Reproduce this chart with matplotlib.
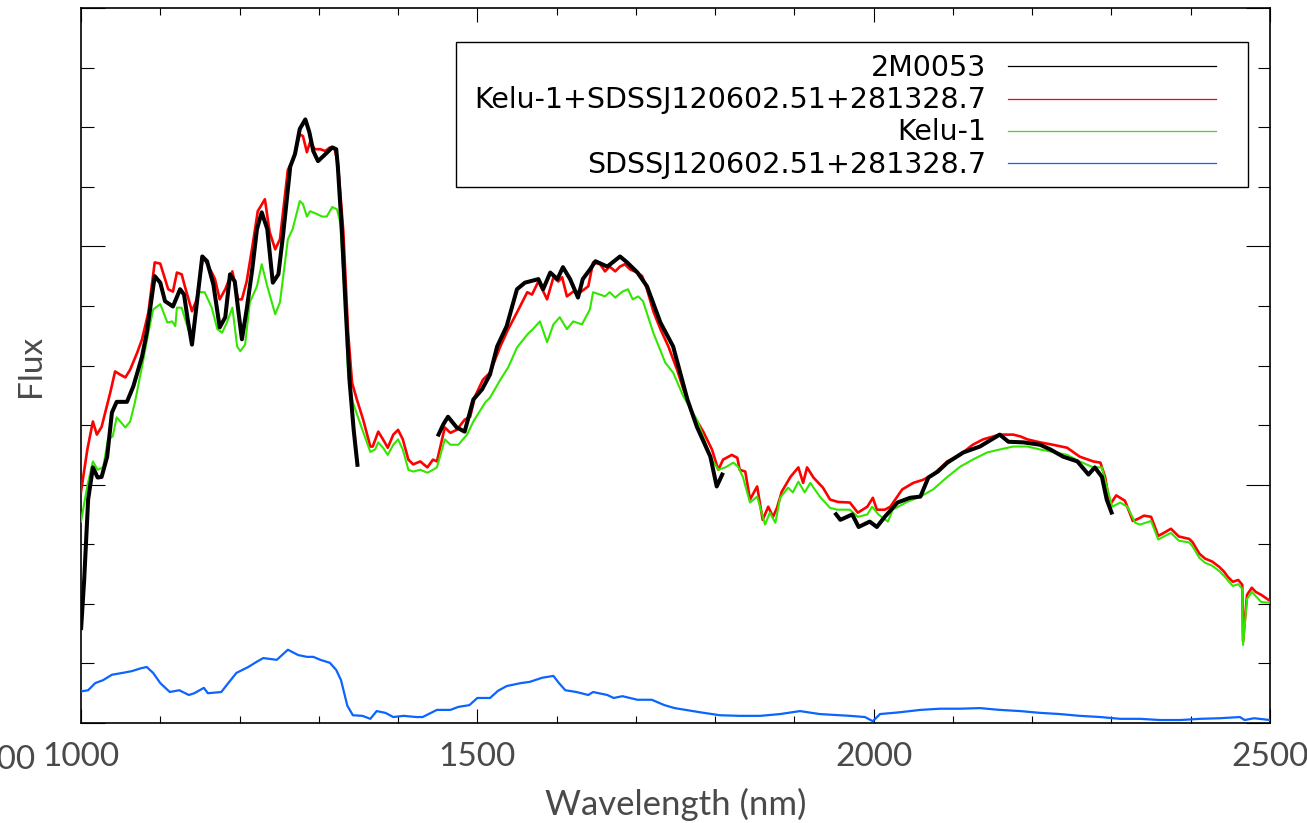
import numpy as np
import matplotlib
matplotlib.use("Agg")
import matplotlib.pyplot as plt
from matplotlib.patches import Rectangle
from matplotlib.lines import Line2D
from matplotlib.ticker import MultipleLocator

# ---- 2M0053 (observed, with gaps between bands) ----
obs_wave_j = [1000, 1004, 1009, 1015, 1021, 1026, 1033, 1039, 1045, 1058, 1066, 1077, 1083, 1093, 1100,
              1106, 1116, 1125, 1130, 1135, 1140, 1146, 1153, 1159, 1167, 1175, 1182, 1188, 1194, 1199,
              1203, 1209, 1216, 1222, 1228, 1235, 1242, 1249, 1255, 1264, 1270, 1276, 1283, 1288, 1293,
              1299, 1307, 1317, 1322, 1324, 1329, 1334, 1339, 1344, 1349]
obs_flux_j = [1.56, 2.40, 3.75, 4.29, 4.12, 4.13, 4.47, 5.21, 5.39, 5.39, 5.65, 6.15, 6.55, 7.50, 7.39,
              7.08, 6.99, 7.28, 7.19, 6.74, 6.35, 7.03, 7.83, 7.75, 7.36, 6.64, 6.81, 7.53, 7.41, 6.86,
              6.44, 6.94, 7.61, 8.29, 8.57, 8.29, 7.39, 7.53, 8.20, 9.34, 9.55, 9.97, 10.13, 9.92, 9.60,
              9.43, 9.53, 9.66, 9.63, 9.34, 8.29, 6.94, 5.71, 4.92, 4.30]
obs_wave_h = [1450, 1457, 1463, 1474, 1484, 1495, 1506, 1516, 1525, 1537, 1550, 1560, 1577, 1583, 1592,
              1601, 1608, 1617, 1627, 1633, 1642, 1649, 1664, 1680, 1689, 1702, 1714, 1731, 1747, 1765,
              1777, 1794, 1802, 1810]
obs_flux_h = [4.81, 5.01, 5.14, 4.96, 4.89, 5.43, 5.60, 5.85, 6.32, 6.66, 7.28, 7.39, 7.45, 7.28, 7.56,
              7.45, 7.65, 7.45, 7.14, 7.45, 7.61, 7.75, 7.66, 7.83, 7.73, 7.56, 7.33, 6.72, 6.32, 5.43,
              4.97, 4.47, 3.97, 4.20]
obs_wave_k = [1951, 1958, 1973, 1981, 1995, 2004, 2014, 2030, 2046, 2059, 2069, 2081, 2093, 2113, 2134,
              2149, 2159, 2170, 2189, 2210, 2223, 2239, 2257, 2271, 2279, 2288, 2294, 2301]
obs_flux_k = [3.53, 3.41, 3.50, 3.29, 3.38, 3.29, 3.46, 3.70, 3.78, 3.80, 4.12, 4.22, 4.37, 4.54, 4.64,
              4.76, 4.84, 4.72, 4.71, 4.67, 4.59, 4.47, 4.39, 4.17, 4.29, 4.13, 3.75, 3.50]

# ---- Kelu-1 + SDSSJ120602.51+281328.7 composite ----
comp_wave = [1000, 1008, 1015, 1020, 1026, 1037, 1043, 1049, 1056, 1062, 1071, 1077, 1085, 1093, 1100,
             1110, 1116, 1121, 1127, 1131, 1140, 1146, 1154, 1165, 1169, 1175, 1182, 1191, 1198, 1203,
             1209, 1216, 1223, 1232, 1238, 1245, 1251, 1261, 1267, 1276, 1280, 1285, 1289, 1295, 1302,
             1308, 1314, 1320, 1324, 1331, 1337, 1342, 1348, 1356, 1365, 1368, 1375, 1381, 1387, 1394,
             1400, 1406, 1413, 1419, 1428, 1437, 1444, 1449, 1459, 1466, 1474, 1484, 1491, 1497, 1507,
             1516, 1529, 1539, 1550, 1563, 1569, 1577, 1588, 1596, 1602, 1607, 1613, 1621, 1630, 1640,
             1646, 1655, 1661, 1667, 1674, 1680, 1686, 1693, 1702, 1708, 1714, 1722, 1731, 1741, 1752,
             1760, 1772, 1785, 1796, 1804, 1810, 1821, 1828, 1831, 1838, 1844, 1853, 1860, 1867, 1873,
             1878, 1884, 1895, 1905, 1911, 1916, 1924, 1936, 1945, 1955, 1970, 1980, 1992, 1999, 2004,
             2014, 2021, 2036, 2050, 2062, 2075, 2093, 2109, 2125, 2138, 2159, 2176, 2185, 2194, 2210,
             2226, 2244, 2260, 2277, 2286, 2292, 2298, 2306, 2317, 2327, 2334, 2341, 2350, 2359, 2366,
             2375, 2385, 2398, 2402, 2411, 2418, 2427, 2436, 2442, 2447, 2453, 2460, 2465, 2466, 2471,
             2477, 2482, 2489, 2498, 2500]
comp_flux = [3.88, 4.59, 5.06, 4.84, 4.97, 5.55, 5.90, 5.85, 5.80, 5.93, 6.22, 6.44, 6.89, 7.73, 7.71,
             7.28, 7.24, 7.56, 7.53, 7.33, 6.91, 7.11, 7.83, 7.56, 7.45, 7.11, 7.28, 7.58, 7.11, 7.11,
             7.41, 7.98, 8.59, 8.79, 8.24, 7.95, 8.12, 9.29, 9.43, 9.88, 9.85, 9.58, 9.75, 9.63, 9.63,
             9.60, 9.66, 9.63, 9.41, 8.24, 6.55, 5.71, 5.43, 5.09, 4.64, 4.64, 4.89, 4.76, 4.62, 4.84,
             4.92, 4.76, 4.42, 4.34, 4.39, 4.29, 4.42, 4.39, 4.96, 4.87, 4.92, 5.09, 5.14, 5.48, 5.76,
             5.88, 6.32, 6.61, 6.89, 7.23, 7.19, 7.41, 7.11, 7.48, 7.41, 7.48, 7.16, 7.24, 7.23, 7.33,
             7.73, 7.70, 7.58, 7.66, 7.58, 7.66, 7.70, 7.61, 7.56, 7.50, 7.28, 6.91, 6.61, 6.32, 5.93,
             5.60, 5.18, 4.89, 4.59, 4.25, 4.42, 4.50, 4.45, 4.25, 4.22, 3.75, 3.97, 3.41, 3.63, 3.46,
             3.61, 3.88, 4.13, 4.29, 4.03, 4.29, 4.12, 3.95, 3.75, 3.71, 3.70, 3.53, 3.63, 3.78, 3.58,
             3.58, 3.63, 3.92, 4.03, 4.08, 4.17, 4.39, 4.50, 4.67, 4.76, 4.84, 4.84, 4.81, 4.76, 4.71,
             4.67, 4.62, 4.47, 4.39, 4.37, 4.13, 3.66, 3.82, 3.73, 3.39, 3.43, 3.48, 3.46, 3.14, 3.19,
             3.26, 3.13, 3.09, 3.04, 2.84, 2.76, 2.71, 2.62, 2.54, 2.45, 2.37, 2.40, 2.32, 1.37, 2.15,
             2.27, 2.20, 2.15, 2.07, 2.05]

# ---- Kelu-1 ----
kelu_wave = [1000, 1008, 1015, 1021, 1028, 1034, 1040, 1045, 1056, 1062, 1068, 1078, 1085, 1091, 1100,
             1109, 1115, 1119, 1121, 1127, 1134, 1140, 1148, 1156, 1165, 1172, 1178, 1184, 1191, 1197,
             1201, 1207, 1213, 1222, 1228, 1235, 1245, 1251, 1261, 1267, 1276, 1280, 1285, 1289, 1298,
             1304, 1310, 1317, 1323, 1327, 1333, 1337, 1343, 1355, 1365, 1371, 1375, 1381, 1387, 1394,
             1400, 1406, 1413, 1419, 1428, 1437, 1444, 1449, 1459, 1466, 1476, 1487, 1495, 1510, 1516,
             1529, 1539, 1550, 1563, 1570, 1579, 1588, 1596, 1604, 1613, 1621, 1632, 1642, 1646, 1655,
             1661, 1667, 1674, 1683, 1690, 1696, 1703, 1709, 1722, 1737, 1747, 1760, 1777, 1794, 1804,
             1813, 1823, 1829, 1835, 1844, 1853, 1863, 1869, 1876, 1882, 1892, 1898, 1905, 1913, 1920,
             1932, 1945, 1954, 1970, 1980, 1992, 1998, 2006, 2018, 2024, 2042, 2059, 2075, 2093, 2109,
             2125, 2143, 2159, 2176, 2194, 2210, 2226, 2244, 2260, 2277, 2288, 2294, 2301, 2311, 2320,
             2330, 2336, 2350, 2359, 2366, 2375, 2385, 2398, 2402, 2411, 2418, 2427, 2436, 2442, 2447,
             2453, 2460, 2465, 2466, 2471, 2477, 2482, 2489, 2498, 2500]
kelu_flux = [3.38, 3.98, 4.39, 4.25, 4.29, 4.76, 4.81, 5.13, 4.96, 5.06, 5.38, 6.05, 6.55, 6.94, 7.03,
             6.72, 6.74, 6.66, 6.97, 6.97, 6.66, 6.44, 7.23, 7.23, 6.97, 6.61, 6.55, 6.72, 6.97, 6.32,
             6.24, 6.35, 7.06, 7.33, 7.70, 7.33, 6.86, 7.06, 8.12, 8.29, 8.76, 8.71, 8.50, 8.59, 8.54,
             8.50, 8.50, 8.66, 8.62, 8.40, 7.11, 5.82, 5.38, 4.92, 4.55, 4.59, 4.71, 4.62, 4.50, 4.67,
             4.76, 4.59, 4.25, 4.22, 4.25, 4.20, 4.25, 4.29, 4.76, 4.67, 4.67, 4.84, 5.06, 5.38, 5.46,
             5.76, 5.97, 6.30, 6.52, 6.61, 6.74, 6.39, 6.69, 6.81, 6.61, 6.74, 6.69, 6.94, 7.23, 7.19,
             7.16, 7.23, 7.14, 7.24, 7.28, 7.11, 7.16, 7.08, 6.55, 6.05, 5.88, 5.48, 5.09, 4.47, 4.25,
             4.29, 4.37, 4.30, 4.13, 3.70, 3.80, 3.33, 3.53, 3.36, 3.78, 3.95, 3.87, 4.05, 3.87, 4.03,
             3.80, 3.61, 3.58, 3.58, 3.46, 3.50, 3.63, 3.50, 3.38, 3.58, 3.71, 3.80, 3.92, 4.13, 4.30,
             4.42, 4.54, 4.59, 4.64, 4.64, 4.59, 4.55, 4.50, 4.39, 4.29, 4.29, 3.97, 3.63, 3.70, 3.63,
             3.36, 3.33, 3.39, 3.08, 3.13, 3.19, 3.06, 3.03, 2.97, 2.77, 2.69, 2.64, 2.55, 2.47, 2.39,
             2.30, 2.33, 2.25, 1.31, 2.08, 2.20, 2.13, 2.03, 2.02, 2.02]

# ---- SDSSJ120602.51+281328.7 ----
sdss_wave = [1000, 1009, 1018, 1028, 1039, 1052, 1064, 1076, 1083, 1091, 1100, 1112, 1124, 1136, 1143,
             1155, 1160, 1177, 1184, 1196, 1211, 1222, 1230, 1247, 1261, 1274, 1285, 1293, 1302, 1314,
             1322, 1328, 1336, 1343, 1355, 1365, 1373, 1384, 1394, 1407, 1423, 1431, 1449, 1466, 1476,
             1490, 1500, 1516, 1526, 1537, 1555, 1566, 1582, 1596, 1603, 1611, 1625, 1640, 1646, 1664,
             1672, 1683, 1702, 1720, 1736, 1749, 1781, 1806, 1831, 1857, 1882, 1907, 1932, 1970, 1989,
             1999, 2008, 2033, 2059, 2084, 2109, 2134, 2159, 2185, 2210, 2235, 2260, 2286, 2311, 2336,
             2361, 2387, 2412, 2437, 2462, 2468, 2480, 2500]
sdss_flux = [0.53, 0.55, 0.67, 0.72, 0.81, 0.84, 0.87, 0.92, 0.94, 0.84, 0.67, 0.52, 0.55, 0.47, 0.50,
             0.59, 0.50, 0.52, 0.64, 0.84, 0.94, 1.03, 1.09, 1.06, 1.23, 1.14, 1.11, 1.11, 1.06, 1.01,
             0.89, 0.72, 0.29, 0.13, 0.12, 0.07, 0.20, 0.17, 0.10, 0.12, 0.10, 0.10, 0.22, 0.22, 0.27,
             0.30, 0.42, 0.42, 0.54, 0.62, 0.67, 0.69, 0.76, 0.79, 0.67, 0.55, 0.52, 0.47, 0.52, 0.47,
             0.42, 0.45, 0.39, 0.39, 0.30, 0.25, 0.18, 0.13, 0.12, 0.12, 0.15, 0.20, 0.15, 0.12, 0.10,
             0.03, 0.15, 0.18, 0.22, 0.24, 0.24, 0.25, 0.22, 0.20, 0.17, 0.15, 0.12, 0.10, 0.07, 0.07,
             0.05, 0.05, 0.07, 0.08, 0.10, 0.05, 0.08, 0.05]

labels = ["2M0053", "Kelu-1+SDSSJ120602.51+281328.7", "Kelu-1", "SDSSJ120602.51+281328.7"]
colors = ["#000000", "#ff0000", "#33e600", "#0a64ff"]
x_tick_values = [1000, 1500, 2000, 2500]

W, H = 1307, 823
fig = plt.figure(figsize=(W / 100, H / 100), dpi=100)
ax_l, ax_r, ax_b, ax_t = 81, 1270, 723, 8
ax = fig.add_axes([ax_l / W, 1 - ax_b / H, (ax_r - ax_l) / W, (ax_b - ax_t) / H])

thin = dict(family="Lato", weight="normal", color="#4a4a4a")

ax.plot(comp_wave, comp_flux, color=colors[1], lw=1.9, zorder=3)
ax.plot(kelu_wave, kelu_flux, color=colors[2], lw=1.5, zorder=4)
ax.plot(sdss_wave, sdss_flux, color=colors[3], lw=1.6, zorder=4)
for w, f in [(obs_wave_j, obs_flux_j), (obs_wave_h, obs_flux_h), (obs_wave_k, obs_flux_k)]:
    ax.plot(w, f, color=colors[0], lw=2.9, zorder=5, solid_capstyle="butt")

ax.set_xlim(1000, 2500)
ax.set_ylim(0, 12)
ax.xaxis.set_major_locator(MultipleLocator(500))
ax.xaxis.set_minor_locator(MultipleLocator(100))
ax.yaxis.set_major_locator(MultipleLocator(4))
ax.yaxis.set_minor_locator(MultipleLocator(1))
ax.set_xticks(x_tick_values)
ax.set_xticklabels([str(v) for v in x_tick_values], fontsize=24, **thin)
ax.set_yticklabels([])
ax.tick_params(axis="x", which="major", direction="in", length=10, width=0.8, top=True, pad=14)
ax.tick_params(axis="x", which="minor", direction="in", length=5, width=0.8, top=True)
ax.tick_params(axis="y", which="major", direction="in", length=17, width=0.8, right=True, labelleft=False)
ax.tick_params(axis="y", which="minor", direction="in", length=9, width=0.8, right=True)
for s in ax.spines.values():
    s.set_linewidth(1.2)

ax.set_xlabel("Wavelength (nm)", fontsize=25, labelpad=11, **thin)
ax.set_ylabel("Flux", fontsize=24, labelpad=22, **thin)

# partially clipped label at the far left of the axis row
fig.text(35 / W, 1 - 760 / H, "1000", ha="right", va="center", fontsize=24, **thin)

# legend box, labels right-aligned to the left of their line samples
def axfrac(px, py):
    return (px - ax_l) / (ax_r - ax_l), (ax_b - py) / (ax_b - ax_t)

bx0, by0 = axfrac(456, 187)
bx1, by1 = axfrac(1248, 42)
ax.add_patch(Rectangle((bx0, by0), bx1 - bx0, by1 - by0, transform=ax.transAxes,
                       fill=True, facecolor="white", edgecolor="black", lw=1.0, zorder=10))
row_py = [66, 98.5, 130.5, 163]
for lab, col, py in zip(labels, colors, row_py):
    tx, ty = axfrac(986, py + 10)
    ax.text(tx, ty, lab, transform=ax.transAxes, ha="right", va="baseline",
            fontsize=20.5, family="DejaVu Sans", color="black", zorder=11)
    lx0, ly = axfrac(1008, py)
    lx1, _ = axfrac(1216, py)
    ax.add_line(Line2D([lx0, lx1], [ly, ly], transform=ax.transAxes, color=col, lw=0.9, zorder=11))

fig.savefig("out.png", dpi=100)
